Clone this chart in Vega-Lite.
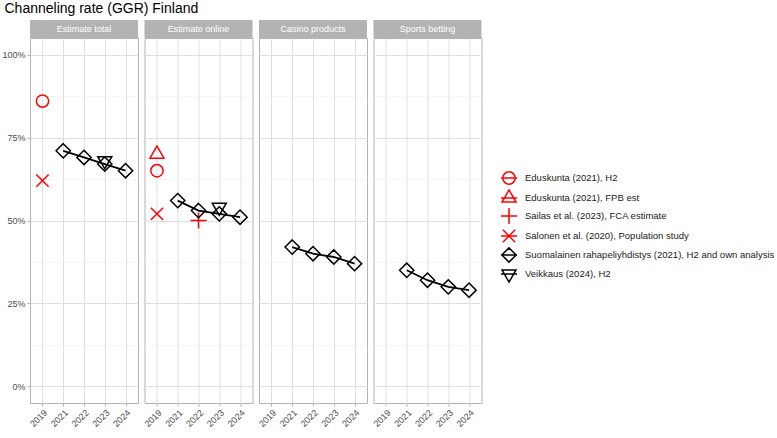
{
  "$schema": "https://vega.github.io/schema/vega-lite/v6.json",
  "background": "white",
  "padding": {"left": 1, "top": 2, "right": 0, "bottom": 0},
  "title": {"text": "Channeling rate (GGR) Finland", "anchor": "start", "fontSize": 14, "fontWeight": "normal", "font": "Liberation Sans", "color": "black", "dx": 3, "offset": 4},
  "datasets": {
    "panels": [
      {"panel": "Estimate total"},
      {"panel": "Estimate online"},
      {"panel": "Casino products"},
      {"panel": "Sports betting"}
    ],
    "rates": [
      {"panel": "Estimate total", "source": "Eduskunta (2021), H2", "year": "2019", "rate": 86},
      {"panel": "Estimate total", "source": "Salonen et al. (2020), Population study", "year": "2019", "rate": 62},
      {"panel": "Estimate total", "source": "Suomalainen rahapeliyhdistys (2021), H2 and own analysis", "year": "2021", "rate": 71},
      {"panel": "Estimate total", "source": "Suomalainen rahapeliyhdistys (2021), H2 and own analysis", "year": "2022", "rate": 69},
      {"panel": "Estimate total", "source": "Suomalainen rahapeliyhdistys (2021), H2 and own analysis", "year": "2023", "rate": 67},
      {"panel": "Estimate total", "source": "Suomalainen rahapeliyhdistys (2021), H2 and own analysis", "year": "2024", "rate": 65},
      {"panel": "Estimate total", "source": "Veikkaus (2024), H2", "year": "2023", "rate": 68},
      {"panel": "Estimate online", "source": "Eduskunta (2021), H2", "year": "2019", "rate": 65},
      {"panel": "Estimate online", "source": "Eduskunta (2021), FPB est", "year": "2019", "rate": 70},
      {"panel": "Estimate online", "source": "Sailas et al. (2023), FCA estimate", "year": "2022", "rate": 50},
      {"panel": "Estimate online", "source": "Salonen et al. (2020), Population study", "year": "2019", "rate": 52},
      {"panel": "Estimate online", "source": "Suomalainen rahapeliyhdistys (2021), H2 and own analysis", "year": "2021", "rate": 56},
      {"panel": "Estimate online", "source": "Suomalainen rahapeliyhdistys (2021), H2 and own analysis", "year": "2022", "rate": 53},
      {"panel": "Estimate online", "source": "Suomalainen rahapeliyhdistys (2021), H2 and own analysis", "year": "2023", "rate": 52},
      {"panel": "Estimate online", "source": "Suomalainen rahapeliyhdistys (2021), H2 and own analysis", "year": "2024", "rate": 51},
      {"panel": "Estimate online", "source": "Veikkaus (2024), H2", "year": "2023", "rate": 54},
      {"panel": "Casino products", "source": "Suomalainen rahapeliyhdistys (2021), H2 and own analysis", "year": "2021", "rate": 42},
      {"panel": "Casino products", "source": "Suomalainen rahapeliyhdistys (2021), H2 and own analysis", "year": "2022", "rate": 40},
      {"panel": "Casino products", "source": "Suomalainen rahapeliyhdistys (2021), H2 and own analysis", "year": "2023", "rate": 39},
      {"panel": "Casino products", "source": "Suomalainen rahapeliyhdistys (2021), H2 and own analysis", "year": "2024", "rate": 37},
      {"panel": "Sports betting", "source": "Suomalainen rahapeliyhdistys (2021), H2 and own analysis", "year": "2021", "rate": 35},
      {"panel": "Sports betting", "source": "Suomalainen rahapeliyhdistys (2021), H2 and own analysis", "year": "2022", "rate": 32},
      {"panel": "Sports betting", "source": "Suomalainen rahapeliyhdistys (2021), H2 and own analysis", "year": "2023", "rate": 30},
      {"panel": "Sports betting", "source": "Suomalainen rahapeliyhdistys (2021), H2 and own analysis", "year": "2024", "rate": 29}
    ]
  },
  "bounds": "flush",
  "columns": 4,
  "spacing": {"row": 0, "column": 6.5},
  "concat": [
    {
      "width": 108, "height": 18,
      "data": {"name": "panels"},
      "transform": [{"filter": "datum.panel === 'Estimate total'"}],
      "view": {"stroke": null},
      "layer": [
        {"mark": {"type": "rect", "color": "#B3B3B3"}},
        {"mark": {"type": "text", "color": "white", "fontSize": 9, "font": "Liberation Sans"}, "encoding": {"text": {"field": "panel"}}}
      ]
    },
    {
      "width": 108, "height": 18,
      "data": {"name": "panels"},
      "transform": [{"filter": "datum.panel === 'Estimate online'"}],
      "view": {"stroke": null},
      "layer": [
        {"mark": {"type": "rect", "color": "#B3B3B3"}},
        {"mark": {"type": "text", "color": "white", "fontSize": 9, "font": "Liberation Sans"}, "encoding": {"text": {"field": "panel"}}}
      ]
    },
    {
      "width": 108, "height": 18,
      "data": {"name": "panels"},
      "transform": [{"filter": "datum.panel === 'Casino products'"}],
      "view": {"stroke": null},
      "layer": [
        {"mark": {"type": "rect", "color": "#B3B3B3"}},
        {"mark": {"type": "text", "color": "white", "fontSize": 9, "font": "Liberation Sans"}, "encoding": {"text": {"field": "panel"}}}
      ]
    },
    {
      "width": 108, "height": 18,
      "data": {"name": "panels"},
      "transform": [{"filter": "datum.panel === 'Sports betting'"}],
      "view": {"stroke": null},
      "layer": [
        {"mark": {"type": "rect", "color": "#B3B3B3"}},
        {"mark": {"type": "text", "color": "white", "fontSize": 9, "font": "Liberation Sans"}, "encoding": {"text": {"field": "panel"}}}
      ]
    },
    {
      "width": 108, "height": 365,
      "data": {"name": "rates"},
      "transform": [{"filter": "datum.panel === 'Estimate total'"}],
      "encoding": {
        "x": {"field": "year", "type": "ordinal", "scale": {"type": "point", "domain": ["2019", "2021", "2022", "2023", "2024"], "padding": 0.6},
          "axis": {"title": null, "labelAngle": -45, "labelAlign": "right", "labelBaseline": "top", "labelPadding": 2, "grid": true, "gridColor": "#DEDEDE"}},
        "y": {"field": "rate", "type": "quantitative", "scale": {"domain": [-5, 105], "nice": false, "zero": false},
          "axis": {"title": null, "values": [0, 12.5, 25, 37.5, 50, 62.5, 75, 87.5, 100], "labelFlush": false,
            "labelExpr": "datum.value % 25 === 0 ? datum.value + '%' : ''", "labelPadding": 2,
            "tickOpacity": {"condition": {"test": "datum.value % 25 === 0", "value": 1}, "value": 0},
            "gridColor": {"condition": {"test": "datum.value % 25 === 0", "value": "#DEDEDE"}, "value": "#EFEFEF"},
            "gridWidth": {"condition": {"test": "datum.value % 25 === 0", "value": 1}, "value": 0.6}}}
      },
      "layer": [
        {"mark": {"type": "line", "color": "black", "strokeWidth": 1.8}, "encoding": {"detail": {"field": "source"}}},
        {
          "mark": {"type": "point", "filled": false, "strokeWidth": 1.5, "size": 196, "opacity": 1,
            "shape": {"expr": "['M-0.88,0A0.88,0.88 0 1,0 0.88,0A0.88,0.88 0 1,0 -0.88,0Z','M0,-1.155L1,0.577L-1,0.577Z','M-1.15,0L1.15,0M0,-1.15L0,1.15','M-0.88,-0.88L0.88,0.88M-0.88,0.88L0.88,-0.88','M0,-1.02L1.02,0L0,1.02L-1.02,0Z','M0,1.155L1,-0.577L-1,-0.577Z'][indexof(domain('color'), datum.source || datum.value)] + (datum.source ? '' : 'M-1.15,0L1.15,0')"}},
          "encoding": {
            "color": {"field": "source", "type": "nominal",
              "scale": {"domain": ["Eduskunta (2021), H2", "Eduskunta (2021), FPB est", "Sailas et al. (2023), FCA estimate", "Salonen et al. (2020), Population study", "Suomalainen rahapeliyhdistys (2021), H2 and own analysis", "Veikkaus (2024), H2"],
                "range": ["#FF0000", "#FF0000", "#FF0000", "#FF0000", "#000000", "#000000"]},
              "legend": {"title": null}}
          }
        }
      ]
    },
    {
      "width": 108, "height": 365,
      "data": {"name": "rates"},
      "transform": [{"filter": "datum.panel === 'Estimate online'"}],
      "encoding": {
        "x": {"field": "year", "type": "ordinal", "scale": {"type": "point", "domain": ["2019", "2021", "2022", "2023", "2024"], "padding": 0.6},
          "axis": {"title": null, "labelAngle": -45, "labelAlign": "right", "labelBaseline": "top", "labelPadding": 2, "grid": true, "gridColor": "#DEDEDE"}},
        "y": {"field": "rate", "type": "quantitative", "scale": {"domain": [-5, 105], "nice": false, "zero": false},
          "axis": {"title": null, "values": [0, 12.5, 25, 37.5, 50, 62.5, 75, 87.5, 100], "labels": false, "ticks": false,
            "gridColor": {"condition": {"test": "datum.value % 25 === 0", "value": "#DEDEDE"}, "value": "#EFEFEF"},
            "gridWidth": {"condition": {"test": "datum.value % 25 === 0", "value": 1}, "value": 0.6}}}
      },
      "layer": [
        {"mark": {"type": "line", "color": "black", "strokeWidth": 1.8}, "encoding": {"detail": {"field": "source"}}},
        {
          "mark": {"type": "point", "filled": false, "strokeWidth": 1.5, "size": 196, "opacity": 1,
            "shape": {"expr": "['M-0.88,0A0.88,0.88 0 1,0 0.88,0A0.88,0.88 0 1,0 -0.88,0Z','M0,-1.155L1,0.577L-1,0.577Z','M-1.15,0L1.15,0M0,-1.15L0,1.15','M-0.88,-0.88L0.88,0.88M-0.88,0.88L0.88,-0.88','M0,-1.02L1.02,0L0,1.02L-1.02,0Z','M0,1.155L1,-0.577L-1,-0.577Z'][indexof(domain('color'), datum.source || datum.value)] + (datum.source ? '' : 'M-1.15,0L1.15,0')"}},
          "encoding": {
            "color": {"field": "source", "type": "nominal", "legend": null}
          }
        }
      ]
    },
    {
      "width": 108, "height": 365,
      "data": {"name": "rates"},
      "transform": [{"filter": "datum.panel === 'Casino products'"}],
      "encoding": {
        "x": {"field": "year", "type": "ordinal", "scale": {"type": "point", "domain": ["2019", "2021", "2022", "2023", "2024"], "padding": 0.6},
          "axis": {"title": null, "labelAngle": -45, "labelAlign": "right", "labelBaseline": "top", "labelPadding": 2, "grid": true, "gridColor": "#DEDEDE"}},
        "y": {"field": "rate", "type": "quantitative", "scale": {"domain": [-5, 105], "nice": false, "zero": false},
          "axis": {"title": null, "values": [0, 12.5, 25, 37.5, 50, 62.5, 75, 87.5, 100], "labels": false, "ticks": false,
            "gridColor": {"condition": {"test": "datum.value % 25 === 0", "value": "#DEDEDE"}, "value": "#EFEFEF"},
            "gridWidth": {"condition": {"test": "datum.value % 25 === 0", "value": 1}, "value": 0.6}}}
      },
      "layer": [
        {"mark": {"type": "line", "color": "black", "strokeWidth": 1.8}, "encoding": {"detail": {"field": "source"}}},
        {
          "mark": {"type": "point", "filled": false, "strokeWidth": 1.5, "size": 196, "opacity": 1,
            "shape": {"expr": "['M-0.88,0A0.88,0.88 0 1,0 0.88,0A0.88,0.88 0 1,0 -0.88,0Z','M0,-1.155L1,0.577L-1,0.577Z','M-1.15,0L1.15,0M0,-1.15L0,1.15','M-0.88,-0.88L0.88,0.88M-0.88,0.88L0.88,-0.88','M0,-1.02L1.02,0L0,1.02L-1.02,0Z','M0,1.155L1,-0.577L-1,-0.577Z'][indexof(domain('color'), datum.source || datum.value)] + (datum.source ? '' : 'M-1.15,0L1.15,0')"}},
          "encoding": {
            "color": {"field": "source", "type": "nominal", "legend": null}
          }
        }
      ]
    },
    {
      "width": 108, "height": 365,
      "data": {"name": "rates"},
      "transform": [{"filter": "datum.panel === 'Sports betting'"}],
      "encoding": {
        "x": {"field": "year", "type": "ordinal", "scale": {"type": "point", "domain": ["2019", "2021", "2022", "2023", "2024"], "padding": 0.6},
          "axis": {"title": null, "labelAngle": -45, "labelAlign": "right", "labelBaseline": "top", "labelPadding": 2, "grid": true, "gridColor": "#DEDEDE"}},
        "y": {"field": "rate", "type": "quantitative", "scale": {"domain": [-5, 105], "nice": false, "zero": false},
          "axis": {"title": null, "values": [0, 12.5, 25, 37.5, 50, 62.5, 75, 87.5, 100], "labels": false, "ticks": false,
            "gridColor": {"condition": {"test": "datum.value % 25 === 0", "value": "#DEDEDE"}, "value": "#EFEFEF"},
            "gridWidth": {"condition": {"test": "datum.value % 25 === 0", "value": 1}, "value": 0.6}}}
      },
      "layer": [
        {"mark": {"type": "line", "color": "black", "strokeWidth": 1.8}, "encoding": {"detail": {"field": "source"}}},
        {
          "mark": {"type": "point", "filled": false, "strokeWidth": 1.5, "size": 196, "opacity": 1,
            "shape": {"expr": "['M-0.88,0A0.88,0.88 0 1,0 0.88,0A0.88,0.88 0 1,0 -0.88,0Z','M0,-1.155L1,0.577L-1,0.577Z','M-1.15,0L1.15,0M0,-1.15L0,1.15','M-0.88,-0.88L0.88,0.88M-0.88,0.88L0.88,-0.88','M0,-1.02L1.02,0L0,1.02L-1.02,0Z','M0,1.155L1,-0.577L-1,-0.577Z'][indexof(domain('color'), datum.source || datum.value)] + (datum.source ? '' : 'M-1.15,0L1.15,0')"}},
          "encoding": {
            "color": {"field": "source", "type": "nominal", "legend": null}
          }
        }
      ]
    }
  ],
  "config": {
    "font": "Liberation Sans",
    "view": {"stroke": "#B3B3B3", "strokeWidth": 1},
    "axis": {"labelFont": "Liberation Sans", "labelFontSize": 9, "labelColor": "#4D4D4D", "tickColor": "#B3B3B3", "tickSize": 3, "tickWidth": 1, "domain": false},
    "legend": {"orient": "none", "legendX": 471, "legendY": 150, "labelFont": "Liberation Sans", "labelFontSize": 9.5, "labelColor": "#1A1A1A", "symbolSize": 196, "symbolStrokeWidth": 1.5, "rowPadding": -2, "labelOffset": 8, "labelLimit": 400}
  }
}
